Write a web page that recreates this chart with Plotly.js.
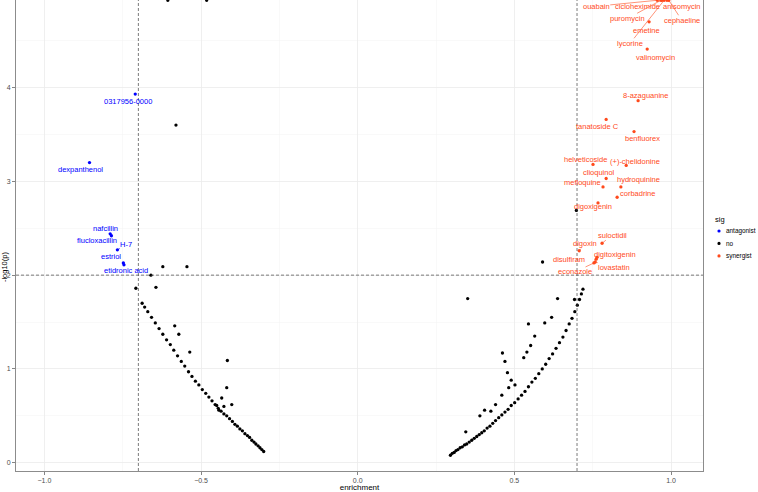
<!DOCTYPE html>
<html>
<head>
<meta charset="utf-8">
<script src="https://cdn.plot.ly/plotly-3.0.1.min.js"></script>
<style>
  body { margin: 0; background: #fff; }
  #plot { width: 758px; height: 492px; }
</style>
</head>
<body>
<div id="plot"></div>
<script>
// antagonist hits (blue)
var antagonistNames = ['0317956-0000', 'dexpanthenol', 'nafcillin', 'flucloxacillin', 'H-7', 'estriol', 'etidronic acid'];
var antagonistX = [-0.710, -0.856, -0.790, -0.786, -0.767, -0.748, -0.746];
var antagonistY = [3.93, 3.20, 2.44, 2.42, 2.27, 2.13, 2.11];

// synergist hits (red)
var synergistNames = ['ouabain', 'cicloheximide', 'anisomycin', 'cephaeline', 'lycorine', 'puromycin', 'emetine',
  'valinomycin', '8-azaguanine', 'tanatoside C', 'benfluorex', 'helveticoside', '(+)-chelidonine', 'clioquinol',
  'mefloquine', 'hydroquinine', 'corbadrine', 'digoxigenin', 'suloctidil', 'digoxin', 'digitoxigenin',
  'disulfiram', 'lovastatin', 'econazole'];
var synergistX = [0.956, 0.971, 0.987, 0.993, 0.978, 0.968, 0.930, 0.924, 0.895, 0.793, 0.882, 0.751, 0.857,
  0.793, 0.783, 0.840, 0.828, 0.767, 0.780, 0.707, 0.764, 0.761, 0.758, 0.754];
var synergistY = [4.93, 4.93, 4.93, 4.93, 4.93, 4.93, 4.70, 4.41, 3.86, 3.66, 3.53, 3.18, 3.17, 3.03, 2.94,
  2.94, 2.83, 2.77, 2.34, 2.26, 2.19, 2.17, 2.14, 2.13];

// not significant, left arm
var noLeftX = [-0.300, -0.306, -0.312, -0.318, -0.325, -0.331, -0.338, -0.345, -0.352, -0.360, -0.368, -0.376,
  -0.384, -0.392, -0.400, -0.409, -0.418, -0.427, -0.436, -0.445, -0.455, -0.465, -0.475, -0.485, -0.496,
  -0.507, -0.518, -0.529, -0.540, -0.552, -0.563, -0.575, -0.587, -0.598, -0.610, -0.622, -0.634, -0.646,
  -0.658, -0.670, -0.680, -0.688];
var noLeftY = [0.12, 0.14, 0.16, 0.18, 0.20, 0.22, 0.24, 0.27, 0.29, 0.31, 0.34, 0.36, 0.39, 0.41, 0.44, 0.47,
  0.50, 0.52, 0.55, 0.58, 0.62, 0.66, 0.70, 0.74, 0.78, 0.83, 0.87, 0.92, 0.97, 1.03, 1.08, 1.14, 1.20, 1.26,
  1.31, 1.37, 1.43, 1.49, 1.55, 1.61, 1.66, 1.70];

// not significant, right arm
var noRightX = [0.296, 0.302, 0.308, 0.314, 0.320, 0.327, 0.334, 0.341, 0.348, 0.356, 0.364, 0.372, 0.380,
  0.388, 0.396, 0.404, 0.413, 0.422, 0.431, 0.440, 0.450, 0.460, 0.470, 0.480, 0.490, 0.501, 0.512, 0.523,
  0.534, 0.545, 0.556, 0.567, 0.578, 0.589, 0.600, 0.611, 0.622, 0.633, 0.644, 0.655, 0.665, 0.675, 0.684,
  0.693, 0.701, 0.708, 0.714, 0.719];
var noRightY = [0.08, 0.10, 0.11, 0.13, 0.14, 0.16, 0.17, 0.19, 0.20, 0.22, 0.24, 0.26, 0.28, 0.30, 0.32, 0.34,
  0.37, 0.39, 0.42, 0.45, 0.48, 0.51, 0.54, 0.57, 0.61, 0.64, 0.68, 0.72, 0.76, 0.81, 0.86, 0.90, 0.95, 1.00,
  1.05, 1.11, 1.16, 1.22, 1.28, 1.34, 1.41, 1.48, 1.54, 1.61, 1.68, 1.74, 1.80, 1.85];

// not significant, scattered off the arms
var noOtherX = [-0.606, -0.482, -0.580, -0.622, -0.545, -0.660, -0.708, -0.644, -0.584, -0.571, -0.536,
  -0.450, -0.443, -0.427, -0.418, -0.434, -0.416, -0.402,
  0.590, 0.698, 0.351, 0.545, 0.597, 0.619, 0.638, 0.692, 0.462, 0.470, 0.478, 0.490, 0.482, 0.502,
  0.530, 0.540, 0.552, 0.565, 0.460, 0.440, 0.425, 0.405, 0.390, 0.345];
var noOtherY = [4.93, 4.93, 3.60, 2.09, 2.09, 2.00, 1.86, 1.87, 1.46, 1.37, 1.18,
  0.61, 0.56, 0.60, 0.80, 0.69, 1.09, 0.62,
  2.14, 2.69, 1.75, 1.48, 1.49, 1.55, 1.75, 1.74, 1.17, 1.08, 0.96, 0.88, 0.80, 0.83,
  1.12, 1.18, 1.25, 1.35, 0.72, 0.62, 0.55, 0.56, 0.50, 0.33];

var sigLevels = ['antagonist', 'no', 'synergist'];

// label placement (pixel offsets from the point, dy down) and whether a segment is drawn
var antagonistDx = [-7, -9, -5, -14, 9, -12, 2];
var antagonistDy = [7, 7, -5, 5, -5, -6, 6];
var antagonistLine = [false, false, false, false, true, false, false];
var synergistDx = [-61, -24, 15, 13, -34, -33, -3, 8, 7, -9, 8, -8, 9, -7, -21, 18, 20, -5, 10, 6, 18, -27, 19, -19];
var synergistDy = [6, 6, 6, 20, 43, 18, 9, 8, -5, 7, 7, -5, -4, -6, -4, -7, -4, 4, -8, -7, -3, 0, 5, 9];
var synergistLine = [true, true, true, true, true, true, false, false, false, false, false, false, false, false,
  false, false, false, false, true, true, true, false, true, true];

var blue = '#0000FF';
var red = '#FF4A1C';
var sigColors = [blue, '#000000', red];
var fontFamily = 'Liberation Sans, Arial, sans-serif';

var noX = noLeftX.concat(noRightX, noOtherX);
var noY = noLeftY.concat(noRightY, noOtherY);

var traces = [
  {name: 'antagonist', x: antagonistX, y: antagonistY, type: 'scatter', mode: 'markers',
    marker: {color: blue, size: 3.3}, hoverinfo: 'text', text: antagonistNames},
  {name: 'no', x: noX, y: noY, type: 'scatter', mode: 'markers',
    marker: {color: '#000000', size: 3.3}},
  {name: 'synergist', x: synergistX, y: synergistY, type: 'scatter', mode: 'markers',
    marker: {color: red, size: 3.3}, hoverinfo: 'text', text: synergistNames}
];

function makeLabels(names, xs, ys, dx, dy, line, color) {
  var out = [];
  for (var i = 0; i < names.length; i++) {
    var a = {
      x: xs[i], y: ys[i], xref: 'x', yref: 'y', text: names[i],
      font: {family: fontFamily, size: 7.5, color: color}
    };
    if (line[i]) {
      a.showarrow = true;
      a.arrowhead = 0;
      a.arrowwidth = 0.6;
      a.arrowcolor = color;
      a.ax = dx[i];
      a.ay = dy[i];
      a.standoff = 0;
      a.borderpad = 0;
    } else {
      a.showarrow = false;
      a.xshift = dx[i];
      a.yshift = -dy[i];
    }
    out.push(a);
  }
  return out;
}

var annotations = makeLabels(antagonistNames, antagonistX, antagonistY, antagonistDx, antagonistDy, antagonistLine, blue)
  .concat(makeLabels(synergistNames, synergistX, synergistY, synergistDx, synergistDy, synergistLine, red));

// y axis title, placed by hand like the reference
annotations.push({
  xref: 'paper', yref: 'paper', x: 0, y: 0.433, xanchor: 'center', xshift: -12, textangle: -90, showarrow: false,
  borderpad: 0, text: '-log10(p)', font: {family: fontFamily, size: 7.5, color: '#000'}
});

// legend drawn by hand so it fits the narrow right margin
var shapes = [];
annotations.push({
  xref: 'paper', yref: 'paper', x: 1.0145, y: 0.533, xanchor: 'left', showarrow: false,
  text: 'sig', font: {family: fontFamily, size: 7.5, color: '#000'}
});
for (var k = 0; k < sigLevels.length; k++) {
  var ky = 0.5096 - k * 0.0265;
  shapes.push({
    type: 'circle', xref: 'paper', yref: 'paper', xsizemode: 'pixel', ysizemode: 'pixel',
    xanchor: 1.0233, yanchor: ky, x0: -1.6, x1: 1.6, y0: -1.6, y1: 1.6,
    fillcolor: sigColors[k], line: {width: 0}
  });
  annotations.push({
    xref: 'paper', yref: 'paper', x: 1.032, y: ky, xanchor: 'left', showarrow: false,
    borderpad: 0, text: sigLevels[k], font: {family: fontFamily, size: 6.4, color: '#000'}
  });
}

var dashLine = {color: '#444444', width: 0.7, dash: '3px,2px'};
shapes.push(
  {type: 'line', xref: 'x', yref: 'paper', x0: -0.7, x1: -0.7, y0: 0, y1: 1, line: dashLine},
  {type: 'line', xref: 'x', yref: 'paper', x0: 0.7, x1: 0.7, y0: 0, y1: 1, line: dashLine},
  {type: 'line', xref: 'paper', yref: 'y', x0: 0, x1: 1, y0: 2, y1: 2, line: dashLine}
);

var layout = {
  width: 758,
  height: 492,
  margin: {l: 16, r: 55, t: 0, b: 21},
  paper_bgcolor: '#ffffff',
  plot_bgcolor: '#ffffff',
  font: {family: fontFamily, size: 7, color: '#4D4D4D'},
  showlegend: false,
  xaxis: {
    range: [-1.0906, 1.1021],
    tick0: 0, dtick: 0.5, tickformat: '.1f',
    ticks: 'outside', ticklen: 3, tickcolor: '#333333', tickwidth: 0.6,
    showgrid: true, gridcolor: '#EBEBEB', gridwidth: 0.8,
    minor: {dtick: 0.25, showgrid: true, gridcolor: '#F4F4F4', gridwidth: 0.5},
    zeroline: false, showline: true, mirror: true, linecolor: '#8C8C8C', linewidth: 1,
    title: {text: 'enrichment', standoff: 2, font: {size: 8, color: '#000'}}
  },
  yaxis: {
    range: [-0.088, 4.933],
    tick0: 0, dtick: 1,
    ticks: 'outside', ticklen: 3, tickcolor: '#333333', tickwidth: 0.6,
    showgrid: true, gridcolor: '#EBEBEB', gridwidth: 0.8,
    minor: {dtick: 0.5, showgrid: true, gridcolor: '#F4F4F4', gridwidth: 0.5},
    zeroline: false, showline: true, mirror: true, linecolor: '#8C8C8C', linewidth: 1
  },
  shapes: shapes,
  annotations: annotations
};

Plotly.newPlot('plot', traces, layout, {displayModeBar: false, staticPlot: true});
</script>
</body>
</html>
